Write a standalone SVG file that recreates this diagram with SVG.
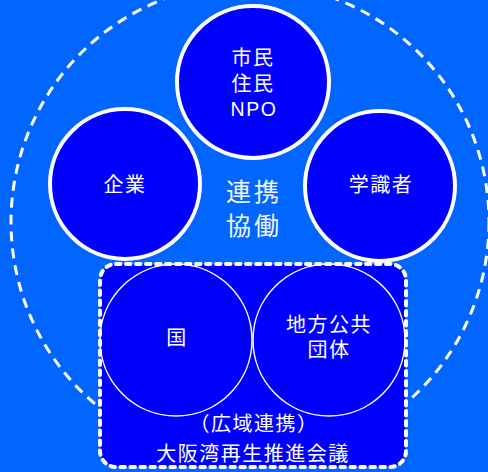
<svg xmlns="http://www.w3.org/2000/svg" width="488" height="472" viewBox="0 0 488 472">
<style>
.t{font-family:"Noto Sans CJK JP","Noto Sans",sans-serif;fill:#fff;text-anchor:middle;font-size:20px;letter-spacing:1.5px}
.c{fill:#0000FF;stroke:#fff;stroke-width:4}
.ci{fill:none;stroke:#fff;stroke-width:1.5}
</style>
<rect width="488" height="472" fill="#0066FF"/>
<g id="outer">
<circle cx="250" cy="222" r="239" fill="none" stroke="#fff" stroke-width="3" stroke-dasharray="10 7"/>
</g>
<g id="council">
<rect x="100" y="264" width="306" height="203" rx="16" fill="#0000FF" stroke="#fff" stroke-width="4" stroke-dasharray="4.5 5.5" stroke-linecap="round"/>
<text class="t" x="254" y="431">（広域連携）</text>
<text class="t" x="253" y="461">大阪湾再生推進会議</text>
</g>
<g id="citizens">
<circle class="c" cx="253" cy="82" r="76"/>
<text class="t" x="253" y="65">市民</text>
<text class="t" x="253" y="91">住民</text>
<text class="t" x="254" y="116" style="font-family:'Liberation Sans',sans-serif;font-size:19.5px;letter-spacing:1.5px">NPO</text>
</g>
<g id="company">
<circle class="c" cx="125" cy="184" r="75"/>
<text class="t" x="125" y="192">企業</text>
</g>
<g id="experts">
<circle class="c" cx="380" cy="186" r="75"/>
<text class="t" x="381" y="192">学識者</text>
</g>
<g id="center">
<text class="t" x="254" y="201" style="font-size:25px;letter-spacing:3px;fill:#F2F6FF">連携</text>
<text class="t" x="254" y="235" style="font-size:25px;letter-spacing:3px;fill:#F2F6FF">協働</text>
</g>
<g id="nation">
<circle class="ci" cx="176" cy="340" r="76"/>
<text class="t" x="177" y="345">国</text>
</g>
<g id="local">
<circle class="ci" cx="329" cy="340" r="76"/>
<text class="t" x="329" y="332">地方公共</text>
<text class="t" x="329" y="357">団体</text>
</g>
<g id="connectors"></g>
</svg>
